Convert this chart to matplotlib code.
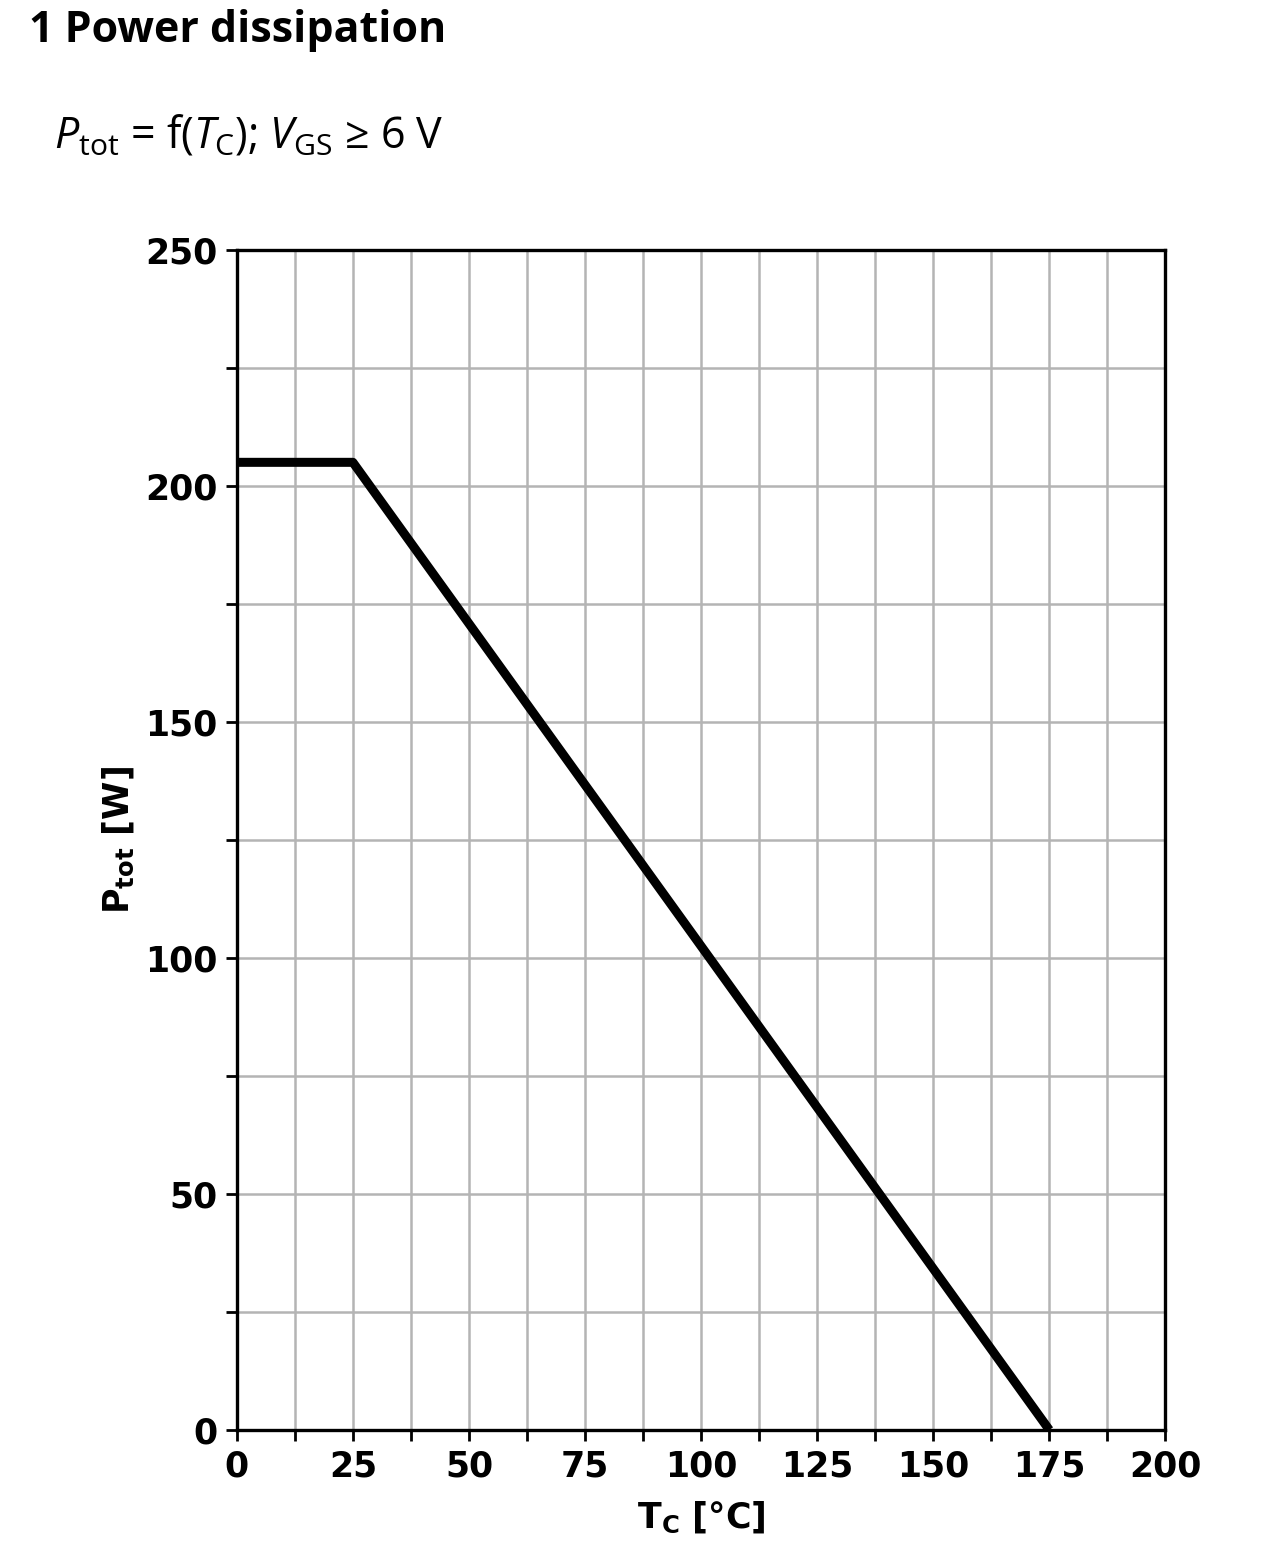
import numpy as np
import matplotlib.pyplot as plt

plt.rcParams['mathtext.fontset'] = 'custom'
plt.rcParams['mathtext.rm'] = 'Open Sans'
plt.rcParams['mathtext.it'] = 'Open Sans:italic'
plt.rcParams['mathtext.bf'] = 'DejaVu Sans:bold'

# derating curve: T_C [°C] vs P_tot [W]
tc = [0, 25, 175]
ptot = [205, 205, 0]

x_major = np.arange(0, 201, 25)
x_minor = np.arange(0, 201, 12.5)
y_major = np.arange(0, 251, 50)
y_minor = np.arange(0, 251, 25)

fig = plt.figure(figsize=(12.8, 15.64), dpi=100)
ax = fig.add_axes([0.185, 0.0857, 0.7255, 0.7545])

ax.plot(tc, ptot, color="black", linewidth=6.5, solid_capstyle="butt", zorder=3)

ax.set_xlim(0, 200)
ax.set_ylim(0, 250)
ax.set_xticks(x_major)
ax.set_xticks(x_minor, minor=True)
ax.set_yticks(y_major)
ax.set_yticks(y_minor, minor=True)
ax.grid(which="both", color="#b4b4b4", linewidth=1.8)
ax.set_axisbelow(True)

for s in ax.spines.values():
	s.set_linewidth(2.4)
ax.tick_params(which="both", direction="out", length=8, width=2, pad=6)
for lab in ax.get_xticklabels() + ax.get_yticklabels():
	lab.set_fontfamily("DejaVu Sans")
	lab.set_fontweight("bold")
	lab.set_fontsize(25)

ax.set_xlabel(r"T$_\mathbf{C}$ [°C]", fontsize=25, fontweight="bold", family="DejaVu Sans", labelpad=12)
ax.set_ylabel(r"P$_\mathbf{tot}$ [W]", fontsize=25, fontweight="bold", family="DejaVu Sans", labelpad=6)

fig.text(0.023, 0.994, "1 Power dissipation", fontsize=31, fontweight="bold", family="Open Sans", va="top", ha="left")
fig.text(0.042, 0.913, r"$P_{\mathrm{tot}}$ = f($T_{\mathrm{C}}$); $V_{\mathrm{GS}}$ ≥ 6 V", fontsize=31, family="Open Sans", va="center", ha="left")

fig.savefig("out.png", dpi=100)
